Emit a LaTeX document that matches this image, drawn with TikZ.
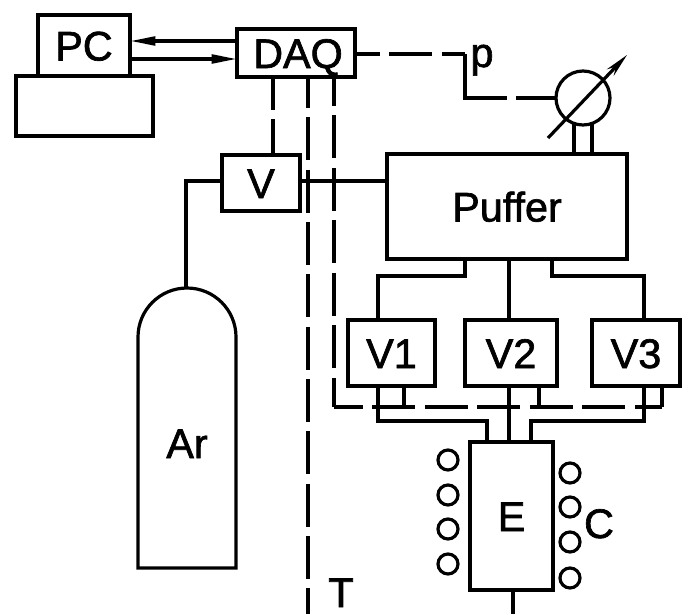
\documentclass[tikz,border=0pt]{standalone}
\usepackage{fontspec}
\setmainfont[FakeBold=1.6]{Liberation Sans}
\usetikzlibrary{arrows.meta}
\tikzset{
  line/.style={line width=2.4pt},
  box/.style={draw,line width=2.4pt,rectangle,inner sep=0pt,outer sep=0pt,text height=22.5pt,text depth=0pt,font=\fontsize{31}{36}\selectfont},
  lab/.style={inner sep=0pt,outer sep=0pt,text height=22.5pt,text depth=0pt,font=\fontsize{31}{36}\selectfont},
  coil/.style={draw,line width=2.4pt,circle,inner sep=0pt,outer sep=0pt,minimum size=15pt},
  sig/.style={line width=2.4pt,dash pattern=on 32.25pt off 7pt},
  sigb/.style={line width=2.4pt,dash pattern=on 32.25pt off 7.1pt,dash phase=10.5pt},
  tip/.style={-{Triangle[length=19pt,width=6.5pt]}},
}
\begin{document}
\begin{tikzpicture}[x=0.75pt,y=-0.75pt]
\useasboundingbox (0,0) rectangle (688,614);
% guide coordinates
\coordinate (x273) at (273,0);
\coordinate (x308) at (308,0);
\coordinate (x334) at (334,0);
\coordinate (x378) at (378,0);
\coordinate (x404) at (404,0);
\coordinate (x465) at (465,0);
\coordinate (x487) at (487,0);
\coordinate (x509) at (509,0);
\coordinate (x513) at (513,0);
\coordinate (x531) at (531,0);
\coordinate (x539) at (539,0);
\coordinate (x552) at (552,0);
\coordinate (x574) at (574,0);
\coordinate (x592) at (592,0);
\coordinate (x644) at (644,0);
\coordinate (x662) at (662,0);
\coordinate (y41) at (0,41);
\coordinate (y54) at (0,54);
\coordinate (y59) at (0,59);
\coordinate (y122) at (0,122);
\coordinate (y181) at (0,181);
\coordinate (y276) at (0,276);
\coordinate (y407) at (0,407);
\coordinate (y421) at (0,421);
\coordinate (y614) at (0,614);
% boxes
\node[box,minimum width=69pt,minimum height=45.75pt] (pc) at (84,45.5) {PC};
\node[box,minimum width=102.75pt,minimum height=45pt] (base) at (84.5,106) {};
\node[box,minimum width=88.5pt,minimum height=36pt] (daq) at (296,53) {\hspace*{3pt}DAQ};
\node[box,minimum width=58.5pt,minimum height=42pt] (v) at (261,183) {V};
\node[box,minimum width=180pt,minimum height=78.75pt] (puffer) at (507,206.5) {Puffer};
\node[box,minimum width=65.25pt,minimum height=49.5pt] (v1) at (391.5,353) {V1};
\node[box,minimum width=69pt,minimum height=49.5pt] (v2) at (511,353) {V2};
\node[box,minimum width=66pt,minimum height=49.5pt] (v3) at (636,353) {V3};
\node[box,minimum width=62.25pt,minimum height=111pt] (e) at (511.5,516) {E};
% gauge
\node[draw,line width=2.4pt,circle,inner sep=0pt,outer sep=0pt,minimum size=40.5pt] (g) at (583,98) {};
\coordinate (gs) at (548,138);
\coordinate (ge) at (627,55);
\draw[line,-{Stealth[length=18pt,width=7pt]}] (gs) -- (ge);
\node[lab,anchor=base] (plab) at (482,67) {p};
% tank
\coordinate (tl) at (138,337);
\coordinate (tb) at (138,568);
\coordinate (tr) at (236,568);
\coordinate (ttop) at (186,288);
\draw[line] (tb) -- (tl) arc[start angle=180,end angle=360,radius=49] -- (tr) -- cycle;
\node[lab] (ar) at (187,443) {Ar};
% coils
\node[coil] (l1) at (448,460) {};
\node[coil] (l2) at (448,495) {};
\node[coil] (l3) at (448,529) {};
\node[coil] (l4) at (448,564) {};
\node[coil] (r1) at (570,473) {};
\node[coil] (r2) at (570,507) {};
\node[coil] (r3) at (570,542) {};
\node[coil] (r4) at (570,578) {};
\node[lab] (c) at (599,523) {C};
\node[lab] (t) at (341,592) {T};
% PC <-> DAQ
\draw[line,tip] (daq.west |- y41) -- (pc.east |- y41);
\draw[line,tip] (pc.east |- y59) -- (daq.west |- y59);
% gas lines
\coordinate (corner) at (186,181);
\draw[line] (v.west |- y181) -- (corner) -- (ttop);
\draw[line] (v.east |- y181) -- (puffer.west |- y181);
% gauge tubes
\draw[line] (puffer.north -| x574) -- (x574 |- y122);
\draw[line] (puffer.north -| x592) -- (x592 |- y122);
% puffer to valves
\draw[line] (puffer.south -| x465) -- (x465 |- y276) -- (x378 |- y276) -- (v1.north -| x378);
\draw[line] (puffer.south -| x509) -- (v2.north -| x509);
\draw[line] (puffer.south -| x552) -- (x552 |- y276) -- (x644 |- y276) -- (v3.north -| x644);
% valves to experiment
\draw[line] (v1.south -| x378) -- (x378 |- y421) -- (x487 |- y421) -- (e.north -| x487);
\draw[line] (v2.south -| x509) -- (e.north -| x509);
\draw[line] (v3.south -| x644) -- (x644 |- y421) -- (x531 |- y421) -- (e.north -| x531);
\draw[line] (e.south -| x513) -- (x513 |- y614);
% signal lines
\draw[sig,dash phase=7.5pt] (daq.south -| x273) -- (v.north -| x273);
\draw[sig,dash phase=9pt] (daq.south -| x308) -- (x308 |- y614);
\draw[sigb] (daq.south -| x334) -- (x334 |- y407);
\draw[sigb] (x334 |- y407) -- (x662 |- y407);
\draw[line] (x662 |- y407) -- (v3.south -| x662);
\draw[line] (v1.south -| x404) -- (x404 |- y407);
\draw[line] (v2.south -| x539) -- (x539 |- y407);
\coordinate (pcorner) at (465,54);
\coordinate (pdown) at (465,98);
\draw[sig,dash phase=13.5pt] (daq.east |- y54) -- (pcorner);
\draw[line,dash pattern=on 64.5pt off 7pt] (pcorner) -- (pdown) -- (g.west);
\end{tikzpicture}
\end{document}
